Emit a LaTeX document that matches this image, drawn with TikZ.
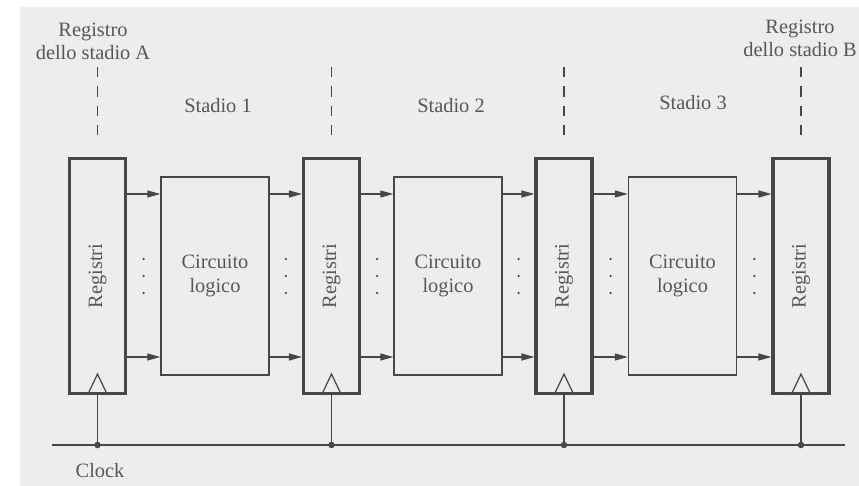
\documentclass[tikz,border=0pt]{standalone}
\usepackage{fontspec}
\setmainfont{Liberation Serif}
\usetikzlibrary{arrows.meta,calc,positioning}
\definecolor{scanpaper}{HTML}{EDEDEB}
\definecolor{scanink}{HTML}{474747}
\definecolor{scantext}{HTML}{575757}
\tikzset{
  every picture/.style={font=\fontsize{11.6}{13.2}\selectfont,text=scantext},
  register/.style={rectangle,draw=scanink,line width=1.8pt,
    minimum width=1.12cm,minimum height=4.7cm,inner sep=0pt},
  logicbox/.style={rectangle,draw=scanink,line width=0.8pt,
    minimum width=2.16cm,minimum height=3.96cm,align=center,inner sep=0pt},
  wire/.style={draw=scanink,line width=0.7pt},
  edge/.style={wire,-{Triangle[length=2.6mm,width=1.4mm]}},
  guide/.style={draw=scanink,line width=0.6pt,dash pattern=on 6pt off 5pt},
  junction/.style={circle,fill=scanink,inner sep=0pt,minimum size=1.3mm},
  caption/.style={align=center,inner sep=0pt},
}

\begin{document}
\begin{tikzpicture}[x=0.02cm,y=-0.02cm]
  \path[use as bounding box] (0,0) rectangle (859,486);
  \fill[scanpaper] (20,7) rectangle (859,486);
  \coordinate (top) at (0,194);
  \coordinate (bot) at (0,357);
  \coordinate (clkL) at (52,445);
  \coordinate (clkR) at (845,445);
  \foreach \i/\x in {1/97.5,2/331.5,3/564,4/801}
    \node[register,label={[rotate=90]center:Registri}] (reg\i) at (\x,276) {};
  \foreach \i/\x in {1/215,2/448,3/682.5}
    \node[logicbox] (logic\i) at (\x,276) {Circuito\\logico};
  \foreach \i [evaluate=\i as \j using int(\i+1)] in {1,2,3} {
    \foreach \y in {top,bot} {
      \draw[edge] (reg\i.east |- \y) -- (logic\i.west |- \y);
      \draw[edge] (logic\i.east |- \y) -- (reg\j.west |- \y);
    }
    \foreach \d in {-17,0,17} {
      \fill[scanink] ($(reg\i.east)!0.5!(logic\i.west)$) ++(0,\d) circle (0.7pt);
      \fill[scanink] ($(logic\i.east)!0.5!(reg\j.west)$) ++(0,\d) circle (0.7pt);
    }
  }
  % clock distribution and edge-trigger marks
  \draw[wire] (clkL) -- (clkR);
  \foreach \i in {1,...,4} {
    \draw[wire] ([xshift=-0.2cm]reg\i.south) -- ([yshift=0.42cm]reg\i.south)
      -- ([xshift=0.2cm]reg\i.south);
    \draw[wire] (reg\i.south) -- (reg\i.south |- clkL);
    \node[junction] at (reg\i.south |- clkL) {};
    \draw[guide] (reg\i.north) ++(0,-90) -- ++(0,72);
  }
  \node[caption] (regA) at (93,41) {Registro\\dello stadio A};
  \node[caption] (regB) at (800,38) {Registro\\dello stadio B};
  \node (stage1) at (218,106) {Stadio 1};
  \node (stage2) at (451,106) {Stadio 2};
  \node (stage3) at (693,103) {Stadio 3};
  \node (clock) at (100,471) {Clock};
\end{tikzpicture}
\end{document}
